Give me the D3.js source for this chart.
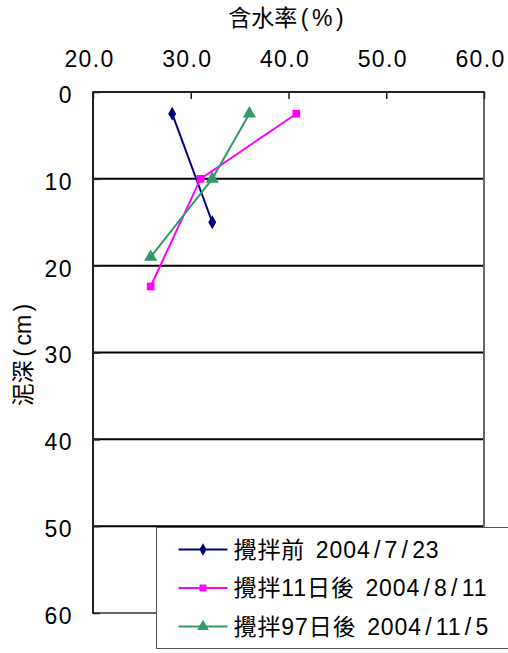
<!DOCTYPE html>
<html>
<head>
<meta charset="utf-8">
<script src="https://cdn.jsdelivr.net/npm/d3@7"></script>
<style>
  body { margin: 0; background: #fff; }
  text { font-family: "Liberation Sans", "Noto Sans CJK TC", sans-serif; fill: #000; }
</style>
</head>
<body>
<div id="chart"></div>
<script>
// data
var seriesNames = ["攪拌前 2004/7/23", "攪拌11日後 2004/8/11", "攪拌97日後 2004/11/5"]
var before = [{w: 28.1, d: 2.5}, {w: 32.2, d: 15}]
var after11 = [{w: 40.8, d: 2.5}, {w: 31.0, d: 10}, {w: 25.9, d: 22.4}]
var after97 = [{w: 36.0, d: 2.5}, {w: 32.2, d: 10}, {w: 25.9, d: 19}]
var xTicks = [20, 30, 40, 50, 60]
var yTicks = [0, 10, 20, 30, 40, 50, 60]

var colors = ["#000080", "#ff00ff", "#339966"]
var shapes = [d3.symbolDiamond, d3.symbolSquare, d3.symbolTriangle]
var sizes = [55, 60, 75]
var allSeries = [before, after11, after97]

var width = 508, height = 653
var margin = {top: 92, right: 24, bottom: 40, left: 93}

var svg = d3.select("#chart").append("svg")
    .attr("width", width)
    .attr("height", height)

var x = d3.scaleLinear().domain([20, 60]).range([margin.left, width - margin.right])
var y = d3.scaleLinear().domain([0, 60]).range([margin.top, height - margin.bottom])

// half-width chars like / ( ) get extra room, like the original font
function wideText(sel, str, pad) {
  var padOf = function(c) {
    if (c == "/" || c == "(" || c == ")") return pad
    if (c == " ") return pad * 0.5
    return 0
  }
  str.split("").forEach(function(c, i, arr) {
    var t = sel.append("tspan").text(c)
    var dx = padOf(c) + (i > 0 ? padOf(arr[i - 1]) : 0)
    if (dx) t.attr("dx", dx)
  })
}

// horizontal gridlines
svg.append("g")
  .selectAll("line")
  .data(yTicks.filter(function(d) { return d > 0 && d < 60 }))
  .join("line")
    .attr("x1", x(20)).attr("x2", x(60))
    .attr("y1", function(d) { return y(d) }).attr("y2", function(d) { return y(d) })
    .attr("stroke", "#000").attr("stroke-width", 2)

// plot frame
svg.append("rect")
    .attr("x", x(20)).attr("y", y(0))
    .attr("width", x(60) - x(20)).attr("height", y(60) - y(0))
    .attr("fill", "none").attr("stroke", "#666").attr("stroke-width", 2)
svg.append("line")
    .attr("x1", x(20)).attr("x2", x(20)).attr("y1", y(0)).attr("y2", y(60))
    .attr("stroke", "#222").attr("stroke-width", 2)
svg.append("line")
    .attr("x1", x(20)).attr("x2", x(60)).attr("y1", y(0)).attr("y2", y(0))
    .attr("stroke", "#222").attr("stroke-width", 2)

// top axis (ticks inside)
var xAxis = svg.append("g")
    .attr("transform", "translate(0," + y(0) + ")")
    .call(d3.axisTop(x).tickValues(xTicks).tickFormat(d3.format(".1f")).tickSizeInner(-7).tickSizeOuter(0))
xAxis.select(".domain").remove()
xAxis.selectAll(".tick line").attr("stroke", "#222").attr("stroke-width", 1.5)
xAxis.selectAll(".tick text")
    .attr("x", -4)
    .attr("y", -25)
    .attr("font-size", "23px")
    .attr("letter-spacing", "1.3px")
    .style("font-family", "'Liberation Sans', sans-serif")

// left axis (ticks inside)
var yAxis = svg.append("g")
    .attr("transform", "translate(" + x(20) + ",0)")
    .call(d3.axisLeft(y).tickValues(yTicks).tickSizeInner(-7).tickSizeOuter(0))
yAxis.select(".domain").remove()
yAxis.selectAll(".tick line").attr("stroke", "#222").attr("stroke-width", 1.5)
yAxis.selectAll(".tick text")
    .attr("x", -20)
    .attr("dy", "0.45em")
    .attr("font-size", "23px")
    .attr("letter-spacing", "1.5px")
    .style("font-family", "'Liberation Sans', sans-serif")

// axis titles
var xt = svg.append("text")
    .attr("x", 286).attr("y", 26)
    .attr("text-anchor", "middle")
    .attr("font-size", "23px")
wideText(xt, "含水率(%)", 3.5)

var yt = svg.append("text")
    .attr("transform", "translate(31,355) rotate(-90)")
    .attr("text-anchor", "middle")
    .attr("font-size", "23px")
wideText(yt, "泥深(cm)", 3.5)

// series
var line = d3.line().x(function(d) { return x(d.w) }).y(function(d) { return y(d.d) })

allSeries.forEach(function(data, i) {
  svg.append("path")
      .datum(data)
      .attr("d", line)
      .attr("fill", "none")
      .attr("stroke", colors[i])
      .attr("stroke-width", 2)
  svg.selectAll(".m" + i)
    .data(data)
    .join("path")
      .attr("class", "m" + i)
      .attr("transform", function(d) { return "translate(" + x(d.w) + "," + y(d.d) + ")" })
      .attr("d", d3.symbol().type(shapes[i]).size(sizes[i]))
      .attr("fill", colors[i])
})

// legend (runs past the right edge, as in the original)
var lg = svg.append("g").attr("transform", "translate(156.5,527.5)")
lg.append("rect")
    .attr("width", 380).attr("height", 121)
    .attr("fill", "#fff").attr("stroke", "#555").attr("stroke-width", 1)

seriesNames.forEach(function(name, i) {
  var cy = 22 + i * 38.5
  lg.append("line")
      .attr("x1", 22).attr("x2", 71)
      .attr("y1", cy).attr("y2", cy)
      .attr("stroke", colors[i]).attr("stroke-width", 2)
  lg.append("path")
      .attr("transform", "translate(46.5," + cy + ")")
      .attr("d", d3.symbol().type(shapes[i]).size(sizes[i] * 0.8))
      .attr("fill", colors[i])
  var t = lg.append("text")
      .attr("x", 77).attr("y", cy + 8)
      .attr("font-size", "23px")
      .attr("letter-spacing", "0.9px")
  wideText(t, name, 3.3)
})
</script>
</body>
</html>
